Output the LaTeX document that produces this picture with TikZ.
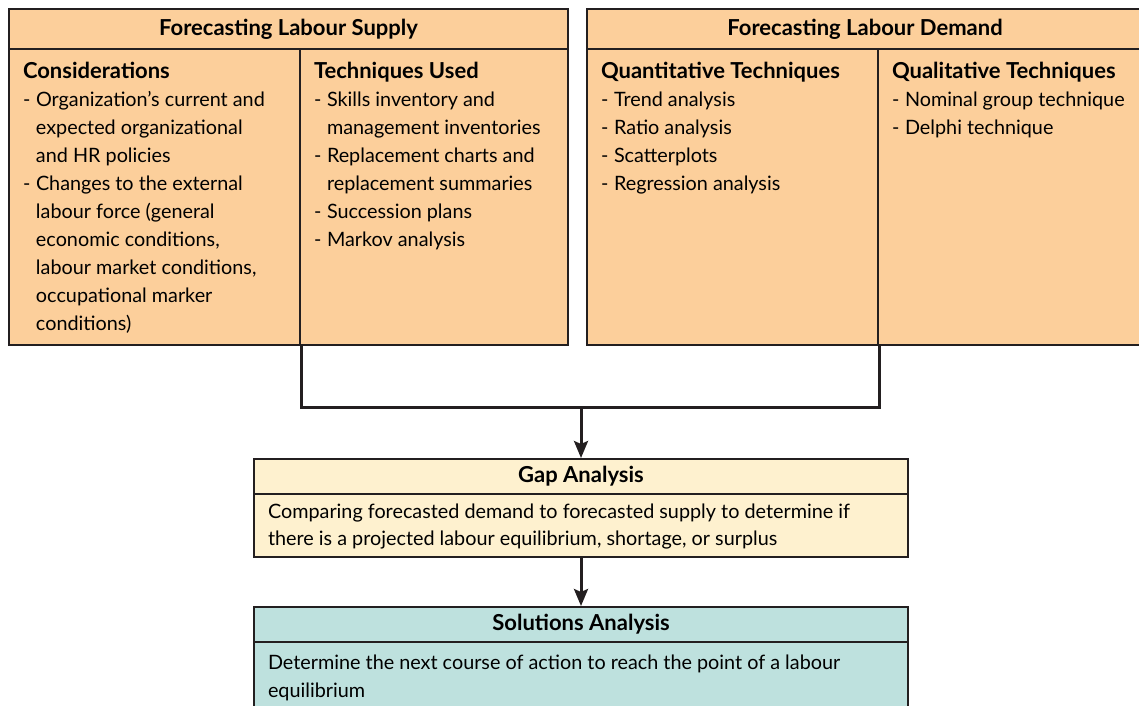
\documentclass[tikz,border=0pt]{standalone}
\usepackage{fontspec}
\setmainfont{Lato}
\usepackage{tikz}
\usetikzlibrary{arrows.meta, positioning}

\definecolor{ink}{RGB}{35,31,32}
\definecolor{supplyfill}{RGB}{252,207,155}
\definecolor{gapfill}{RGB}{254,241,207}
\definecolor{solfill}{RGB}{190,225,222}

% one "- " entry with the wrapped lines hanging under the text
\newcommand{\dashitem}[1]{\par\noindent\hangindent=13pt\hangafter=1\makebox[13pt][l]{-}#1}
% column heading inside a cell
\newcommand{\colhead}[1]{{\fontsize{22}{28}\selectfont\bfseries #1}}
% top aligned cell text: height, width, strut for the first baseline, body
\newcommand{\cellbody}[4]{\parbox[t][#1][t]{#2}{\raggedright\rule{0pt}{#3}#4}}

\begin{document}
\begin{tikzpicture}[
    x = 1pt, y = -1pt, % pixel grid, y going down
    > = {Stealth[length=17pt, width=14pt, inset=3pt]}, % arrow head style
    font = \fontsize{19.8}{28}\selectfont
]

\tikzstyle{head}=[
    draw = ink,
    line width = 2pt,
    anchor = north west,
    inner sep = 0pt,
    font = \fontsize{22}{28}\selectfont\bfseries
]
\tikzstyle{cell}=[
    draw = ink,
    line width = 2pt,
    anchor = north west,
    inner xsep = 14pt,
    inner ysep = 0pt
]
\tikzstyle{link}=[draw = ink, line width = 3pt]

\useasboundingbox (0,0) rectangle (1139,705);
\clip (0,0) rectangle (1139,705);

% supply side
\node[head, fill = supplyfill, minimum width = 559pt, minimum height = 40pt] (Labour Supply) at (8,8) {Forecasting Labour Supply};
\node[cell, fill = supplyfill] (Considerations) at (8,48) {\cellbody{296pt}{263pt}{29pt}{%
    \colhead{Considerations}
    \dashitem{Organization’s current and\newline expected organizational\newline and HR policies}
    \dashitem{Changes to the external\newline labour force (general\newline economic conditions,\newline labour market conditions,\newline occupational marker\newline conditions)}}};
\node[cell, fill = supplyfill] (Techniques Used) at (299,48) {\cellbody{296pt}{240pt}{29pt}{%
    \colhead{Techniques Used}
    \dashitem{Skills inventory and\newline management inventories}
    \dashitem{Replacement charts and\newline replacement summaries}
    \dashitem{Succession plans}
    \dashitem{Markov analysis}}};

% demand side
\node[head, fill = supplyfill, minimum width = 556pt, minimum height = 40pt] (Labour Demand) at (586,8) {Forecasting Labour Demand};
\node[cell, fill = supplyfill] (Quantitative) at (586,48) {\cellbody{296pt}{263pt}{29pt}{%
    \colhead{Quantitative Techniques}
    \dashitem{Trend analysis}
    \dashitem{Ratio analysis}
    \dashitem{Scatterplots}
    \dashitem{Regression analysis}}};
\node[cell, fill = supplyfill] (Qualitative) at (877,48) {\cellbody{296pt}{250pt}{29pt}{%
    \colhead{Qualitative Techniques}
    \dashitem{Nominal group technique}
    \dashitem{Delphi technique}}};

% gap and solutions
\node[head, fill = gapfill, minimum width = 654pt, minimum height = 35pt] (Gap Analysis) at (253,458) {Gap Analysis};
\node[cell, fill = gapfill, font = \fontsize{19.8}{27}\selectfont] (Gap Body) at (253,493) {\cellbody{63pt}{626pt}{24pt}{%
    Comparing forecasted demand to forecasted supply to determine if\newline there is a projected labour equilibrium, shortage, or surplus}};

\node[head, fill = solfill, minimum width = 654pt, minimum height = 35pt] (Solutions Analysis) at (253,606) {Solutions Analysis};
\node[cell, fill = solfill] (Solutions Body) at (253,641) {\cellbody{90pt}{626pt}{27pt}{%
    Determine the next course of action to reach the point of a labour\newline equilibrium}};

\path (Gap Analysis.north) ++(0,-51) coordinate (Join);
\draw[link] (Considerations.south east) |- (Join) -| (Quantitative.south east);
\draw[link, ->] (Join) -- (Gap Analysis.north);
\draw[link, ->] (Gap Body.south) -- (Solutions Analysis.north);

\end{tikzpicture}
\end{document}
